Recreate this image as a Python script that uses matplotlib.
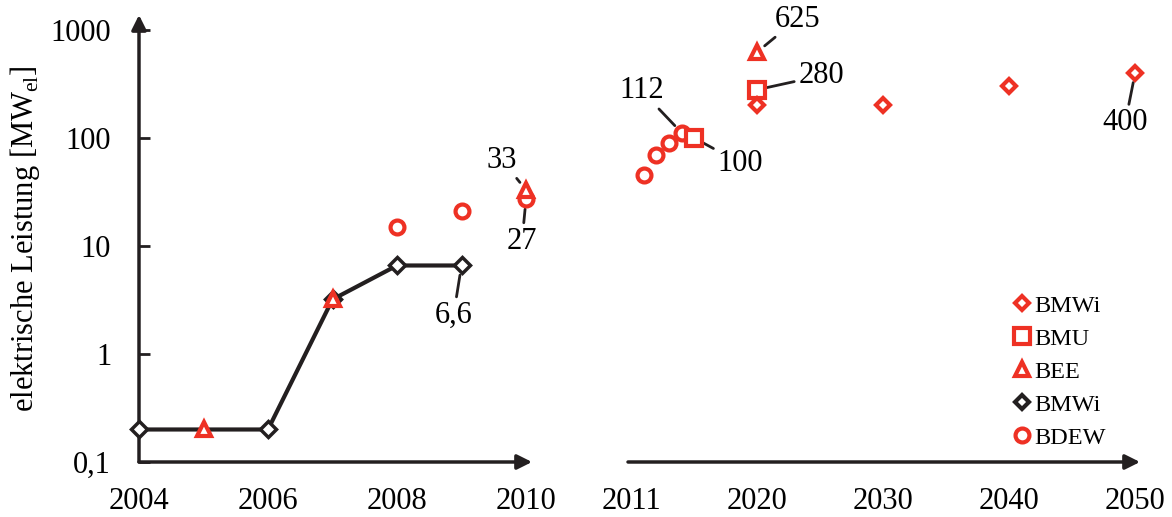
import matplotlib.pyplot as plt
from matplotlib.lines import Line2D

plt.rcParams['font.family'] = ['Liberation Serif', 'DejaVu Serif']

RED = '#ee3124'

# BMWi (schwarz, Linie)
bmwi_hist_years = [2004, 2006, 2007, 2008, 2009]
bmwi_hist_vals = [0.2, 0.2, 3.2, 6.6, 6.6]

# BEE
bee_left_years = [2005, 2007, 2010]
bee_left_vals = [0.2, 3.2, 33]
bee_right_years = [2020]
bee_right_vals = [625]

# BDEW
bdew_left_years = [2008, 2009, 2010]
bdew_left_vals = [15, 21, 27]
bdew_right_years = [2011, 2012, 2013, 2014]
bdew_right_vals = [45, 70, 90, 112]

# BMU
bmu_years = [2015, 2020]
bmu_vals = [100, 280]

# BMWi (rot, Prognose)
bmwi_prog_years = [2020, 2030, 2040, 2050]
bmwi_prog_vals = [200, 200, 300, 400]

left_ticks = [2004, 2006, 2008, 2010]
right_ticks = [2010, 2020, 2030, 2040, 2050]
right_ticklabels = ['2011', '2020', '2030', '2040', '2050']
y_ticks = [0.1, 1, 10, 100, 1000]
y_ticklabels = ['0,1', '1', '10', '100', '1000']

fig = plt.figure(figsize=(11.72, 5.17), dpi=100)
W, H = 1172, 517
bottom = 1 - 462 / H
top = 1 - 15 / H
ax1 = fig.add_axes([139 / W, bottom, 393 / W, top - bottom])
ax2 = fig.add_axes([628 / W, bottom, 512 / W, top - bottom])

ymin, ymax = 0.1, 1377
for ax in (ax1, ax2):
    ax.set_yscale('log')
    ax.set_ylim(ymin, ymax)
    for s in ax.spines.values():
        s.set_visible(False)
    ax.tick_params(axis='x', length=0, labelsize=22, pad=18)
    ax.patch.set_visible(False)

ax1.set_xlim(2004, 2004 + 393 / 64.5)
ax2.set_xlim(2009.75, 2009.75 + 512 / 12.6)

# Achsen mit Pfeilen
arrow = dict(arrowstyle='-|>', color='#231f20', lw=2.5, mutation_scale=22,
             shrinkA=0, shrinkB=0)
ax1.annotate('', xy=(0, 1), xytext=(0, 0), xycoords='axes fraction', arrowprops=arrow)
ax1.annotate('', xy=(1, 0), xytext=(0, 0), xycoords='axes fraction', arrowprops=arrow)
ax2.annotate('', xy=(1, 0), xytext=(0, 0), xycoords='axes fraction', arrowprops=arrow)

ax1.set_yticks(y_ticks)
ax1.set_yticklabels(y_ticklabels)
ax1.minorticks_off()
ax1.tick_params(axis='y', direction='in', length=8, width=2, color='#231f20',
                labelsize=22, pad=20)
ax1.set_xticks(left_ticks)
ax1.set_ylabel('elektrische Leistung [MW$_\\mathregular{el}$]', fontsize=22, labelpad=6)

ax2.set_yticks([])
ax2.minorticks_off()
ax2.tick_params(axis='y', which='both', length=0)
ax2.set_xticks(right_ticks)
ax2.set_xticklabels(right_ticklabels)

kw_black = dict(color='#231f20', marker='D', markersize=8, markerfacecolor='white',
                markeredgecolor='#231f20', markeredgewidth=2.5, lw=3, clip_on=False)
kw_tri = dict(ls='none', marker='^', markersize=10, markerfacecolor='white',
              markeredgecolor=RED, markeredgewidth=3, clip_on=False)
kw_circ = dict(ls='none', marker='o', markersize=10, markerfacecolor='white',
               markeredgecolor=RED, markeredgewidth=3, clip_on=False)
kw_sq = dict(ls='none', marker='s', markersize=11, markerfacecolor='white',
             markeredgecolor=RED, markeredgewidth=3, clip_on=False)
kw_dia = dict(ls='none', marker='D', markersize=7, markerfacecolor='white',
              markeredgecolor=RED, markeredgewidth=3, clip_on=False)

ax1.plot(bmwi_hist_years, bmwi_hist_vals, zorder=3, **kw_black)
ax1.plot(bdew_left_years, bdew_left_vals, zorder=4, **kw_circ)
ax1.plot(bee_left_years, bee_left_vals, zorder=5, **kw_tri)

ax2.plot(bdew_right_years, bdew_right_vals, zorder=4, **kw_circ)
ax2.plot(bmu_years, bmu_vals, zorder=4, **kw_sq)
ax2.plot(bee_right_years, bee_right_vals, zorder=4, **kw_tri)
ax2.plot(bmwi_prog_years, bmwi_prog_vals, zorder=4, **kw_dia)

# Beschriftungen mit Hinweislinien
line = dict(arrowstyle='-', color='#231f20', lw=2, shrinkA=1, shrinkB=7)
txt = dict(textcoords='offset pixels', fontsize=22, ha='center', va='center',
           arrowprops=line)
ax1.annotate('33', xy=(2010, 33), xytext=(-24, 30), **txt)
ax1.annotate('27', xy=(2010, 27), xytext=(-4, -42), **txt)
ax1.annotate('6,6', xy=(2009, 6.6), xytext=(-8, -50), **txt)
ax2.annotate('112', xy=(2014, 112), xytext=(-40, 42), **txt)
ax2.annotate('100', xy=(2015, 100), xytext=(46, -25), **txt)
ax2.annotate('625', xy=(2020, 625), xytext=(40, 33), **txt)
ax2.annotate('280', xy=(2020, 280), xytext=(64, 14), **txt)
ax2.annotate('400', xy=(2050, 400), xytext=(-10, -50), **txt)

handles = [
    Line2D([], [], **kw_dia),
    Line2D([], [], **kw_sq),
    Line2D([], [], **kw_tri),
    Line2D([], [], ls='none', marker='D', markersize=7, markerfacecolor='white',
           markeredgecolor='#231f20', markeredgewidth=3),
    Line2D([], [], **kw_circ),
]
labels = ['BMWi', 'BMU', 'BEE', 'BMWi', 'BDEW']
fig.legend(handles, labels, loc='upper left', bbox_to_anchor=(1005 / W, 1 - 285 / H),
           frameon=False, fontsize=17.5, handlelength=0.6, handletextpad=0.2,
           labelspacing=0.45, borderaxespad=0)

fig.savefig('out.png', dpi=100)
